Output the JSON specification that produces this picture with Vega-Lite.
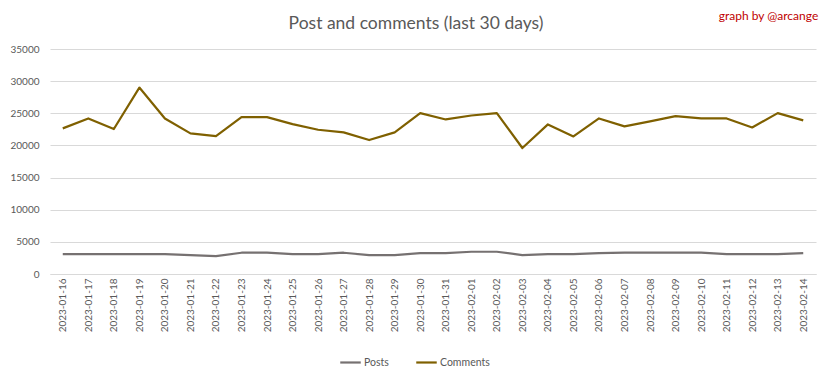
{
  "$schema": "https://vega.github.io/schema/vega-lite/v6.json",
  "autosize": {"type": "none"},
  "width": 766,
  "height": 225,
  "padding": {"left": 50, "top": 49, "right": 16, "bottom": 104},
  "background": "white",
  "title": {
    "text": "Post and comments (last 30 days)",
    "font": "Lato",
    "fontSize": 17.5,
    "fontWeight": "normal",
    "color": "#595959",
    "anchor": "middle",
    "frame": "group",
    "dx": -17,
    "offset": -22
  },
  "datasets": {
    "main": [
      {"date": "2023-01-16", "series": "Posts", "value": 3100},
      {"date": "2023-01-17", "series": "Posts", "value": 3100},
      {"date": "2023-01-18", "series": "Posts", "value": 3100},
      {"date": "2023-01-19", "series": "Posts", "value": 3100},
      {"date": "2023-01-20", "series": "Posts", "value": 3100},
      {"date": "2023-01-21", "series": "Posts", "value": 2950},
      {"date": "2023-01-22", "series": "Posts", "value": 2790},
      {"date": "2023-01-23", "series": "Posts", "value": 3310},
      {"date": "2023-01-24", "series": "Posts", "value": 3310},
      {"date": "2023-01-25", "series": "Posts", "value": 3100},
      {"date": "2023-01-26", "series": "Posts", "value": 3100},
      {"date": "2023-01-27", "series": "Posts", "value": 3310},
      {"date": "2023-01-28", "series": "Posts", "value": 2950},
      {"date": "2023-01-29", "series": "Posts", "value": 2950},
      {"date": "2023-01-30", "series": "Posts", "value": 3260},
      {"date": "2023-01-31", "series": "Posts", "value": 3260},
      {"date": "2023-02-01", "series": "Posts", "value": 3460},
      {"date": "2023-02-02", "series": "Posts", "value": 3460},
      {"date": "2023-02-03", "series": "Posts", "value": 2950},
      {"date": "2023-02-04", "series": "Posts", "value": 3100},
      {"date": "2023-02-05", "series": "Posts", "value": 3100},
      {"date": "2023-02-06", "series": "Posts", "value": 3260},
      {"date": "2023-02-07", "series": "Posts", "value": 3310},
      {"date": "2023-02-08", "series": "Posts", "value": 3310},
      {"date": "2023-02-09", "series": "Posts", "value": 3310},
      {"date": "2023-02-10", "series": "Posts", "value": 3310},
      {"date": "2023-02-11", "series": "Posts", "value": 3100},
      {"date": "2023-02-12", "series": "Posts", "value": 3100},
      {"date": "2023-02-13", "series": "Posts", "value": 3100},
      {"date": "2023-02-14", "series": "Posts", "value": 3260},
      {"date": "2023-01-16", "series": "Comments", "value": 22650},
      {"date": "2023-01-17", "series": "Comments", "value": 24200},
      {"date": "2023-01-18", "series": "Comments", "value": 22550},
      {"date": "2023-01-19", "series": "Comments", "value": 29000},
      {"date": "2023-01-20", "series": "Comments", "value": 24200},
      {"date": "2023-01-21", "series": "Comments", "value": 21870},
      {"date": "2023-01-22", "series": "Comments", "value": 21460},
      {"date": "2023-01-23", "series": "Comments", "value": 24400},
      {"date": "2023-01-24", "series": "Comments", "value": 24400},
      {"date": "2023-01-25", "series": "Comments", "value": 23320},
      {"date": "2023-01-26", "series": "Comments", "value": 22440},
      {"date": "2023-01-27", "series": "Comments", "value": 22030},
      {"date": "2023-01-28", "series": "Comments", "value": 20840},
      {"date": "2023-01-29", "series": "Comments", "value": 22030},
      {"date": "2023-01-30", "series": "Comments", "value": 25030},
      {"date": "2023-01-31", "series": "Comments", "value": 24040},
      {"date": "2023-02-01", "series": "Comments", "value": 24660},
      {"date": "2023-02-02", "series": "Comments", "value": 25030},
      {"date": "2023-02-03", "series": "Comments", "value": 19600},
      {"date": "2023-02-04", "series": "Comments", "value": 23270},
      {"date": "2023-02-05", "series": "Comments", "value": 21400},
      {"date": "2023-02-06", "series": "Comments", "value": 24200},
      {"date": "2023-02-07", "series": "Comments", "value": 22960},
      {"date": "2023-02-08", "series": "Comments", "value": 23730},
      {"date": "2023-02-09", "series": "Comments", "value": 24560},
      {"date": "2023-02-10", "series": "Comments", "value": 24200},
      {"date": "2023-02-11", "series": "Comments", "value": 24200},
      {"date": "2023-02-12", "series": "Comments", "value": 22800},
      {"date": "2023-02-13", "series": "Comments", "value": 25030},
      {"date": "2023-02-14", "series": "Comments", "value": 23890}
    ],
    "credit": [
      {"date": "2023-02-14", "value": 35000, "label": "graph by @arcange"}
    ]
  },
  "encoding": {
    "x": {
      "field": "date",
      "type": "ordinal",
      "scale": {"type": "point", "padding": 0.5},
      "axis": {
        "title": null,
        "labelAngle": -90,
        "labelFont": "Lato",
        "labelFontSize": 10,
        "labelColor": "#595959",
        "labelPadding": 4,
        "ticks": false,
        "domainColor": "#D9D9D9",
        "domainWidth": 1,
        "grid": false
      }
    },
    "y": {
      "field": "value",
      "type": "quantitative",
      "scale": {"domain": [0, 35000], "nice": false},
      "axis": {
        "title": null,
        "values": [0, 5000, 10000, 15000, 20000, 25000, 30000, 35000],
        "format": "d",
        "labelFont": "Lato",
        "labelFontSize": 10,
        "labelColor": "#595959",
        "labelPadding": 11,
        "labelOverlap": false,
        "ticks": false,
        "domain": false,
        "grid": true,
        "gridColor": "#D9D9D9",
        "gridWidth": 1
      }
    }
  },
  "layer": [
    {
      "data": {"name": "main"},
      "mark": {"type": "line", "strokeWidth": 2.2, "strokeJoin": "round"},
      "encoding": {
        "color": {
          "field": "series",
          "type": "nominal",
          "scale": {"domain": ["Posts", "Comments"], "range": ["#767171", "#7F6000"]},
          "legend": {
            "title": null,
            "orient": "none",
            "legendX": 289,
            "legendY": 302,
            "direction": "horizontal",
            "symbolType": "stroke",
            "symbolStrokeWidth": 2.2,
            "symbolSize": 420,
            "labelFont": "Lato",
            "labelFontSize": 10.5,
            "labelColor": "#595959",
            "labelOffset": 2,
            "columnPadding": 22
          }
        }
      }
    },
    {
      "data": {"name": "credit"},
      "mark": {
        "type": "text",
        "align": "right",
        "baseline": "middle",
        "font": "Lato",
        "fontSize": 12,
        "color": "#C00000",
        "dx": 15,
        "dy": -33
      },
      "encoding": {
        "text": {"field": "label"}
      }
    }
  ],
  "config": {
    "view": {"stroke": null}
  }
}
